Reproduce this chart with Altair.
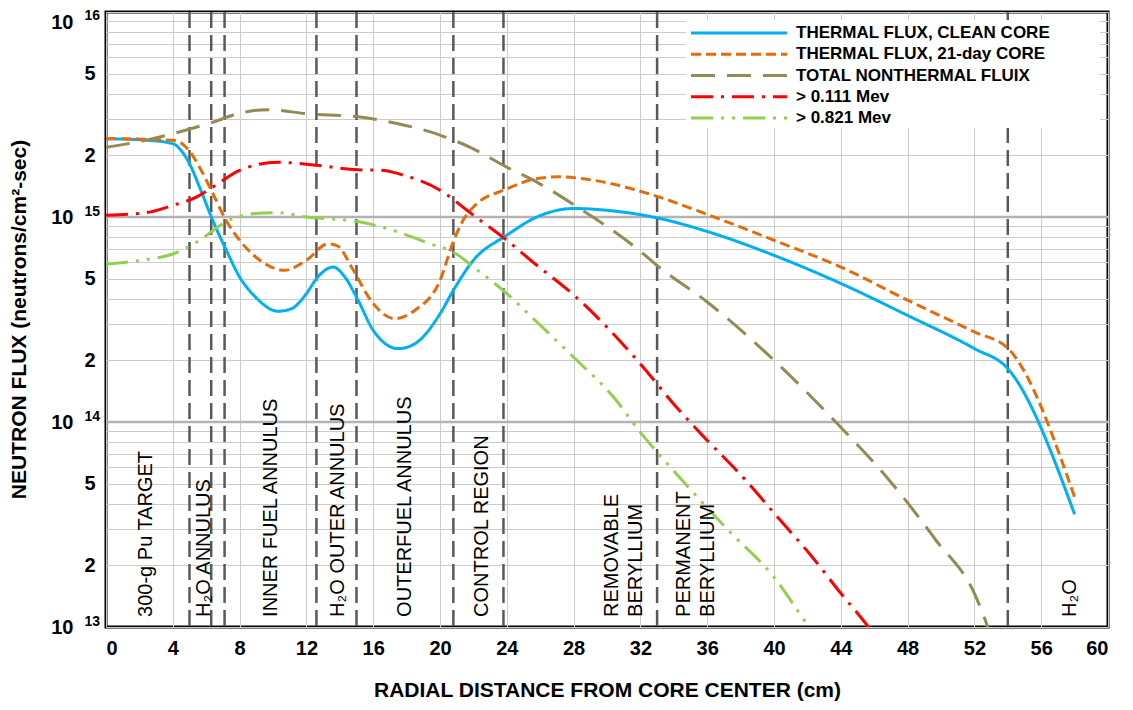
import altair as alt
import pandas as pd

FONT = "Liberation Sans"

# ---------------- data ----------------
series_names = ["THERMAL FLUX, CLEAN CORE", "THERMAL FLUX, 21-day CORE",
                "TOTAL NONTHERMAL FLUIX", "> 0.111 Mev", "> 0.821 Mev"]
series_colors = ["#00B0F0", "#E46C0A", "#948A54", "#FF0000", "#92D050"]
series_dashes = [[1, 0], [10, 5], [24, 12], [22, 8, 3, 8], [22, 8, 3, 8, 3, 8]]

clean_x = [0, 2.4, 4, 4.5, 5, 5.6, 6.4, 7.2, 8, 8.95, 10.3, 11.1, 12, 12.6, 13.6, 14.3,
           15.1, 16, 17.5, 18.5, 20, 20.8, 22, 24, 25.8, 28, 30.4, 33, 36, 40, 44, 48,
           52, 54, 58]
clean_flux = [2.41e15, 2.37e15, 2.28e15, 2.11e15, 1.82e15, 1.40e15, 9.6e14, 6.9e14,
              5.1e14, 4.07e14, 3.47e14, 3.57e14, 4.23e14, 5.0e14, 5.7e14, 5.1e14,
              3.92e14, 2.80e14, 2.28e14, 2.41e14, 3.37e14, 4.39e14, 6.15e14, 8.15e14,
              1.0e15, 1.10e15, 1.07e15, 9.9e14, 8.5e14, 6.5e14, 4.74e14, 3.31e14,
              2.28e14, 1.82e14, 3.55e13]

day21_x = [0, 4, 4.8, 5.6, 6.4, 7.2, 8, 8.95, 10.7, 12, 13.3, 13.9, 14.7, 16, 17.3, 18.5,
           20, 20.8, 21.5, 22, 24, 25.8, 27.1, 29.2, 33, 36, 40, 44, 48, 52, 54, 58]
day21_flux = [2.41e15, 2.37e15, 2.19e15, 1.75e15, 1.30e15, 9.6e14, 7.7e14, 6.4e14,
              5.5e14, 6.15e14, 7.4e14, 7.2e14, 5.7e14, 3.78e14, 3.19e14, 3.51e14,
              4.9e14, 7.6e14, 1.0e15, 1.12e15, 1.37e15, 1.54e15, 1.57e15, 1.51e15,
              1.26e15, 1.03e15, 7.7e14, 5.7e14, 3.93e14, 2.75e14, 2.29e14, 4.3e13]

nonth_x = [0, 2.4, 4, 6.4, 8, 9.7, 12, 15.1, 17.5, 20, 22, 24, 25.8, 28, 32, 33, 36, 40,
           43.8, 46.9, 49.7, 52.1, 52.8, 53.3]
nonth_flux = [2.19e15, 2.37e15, 2.55e15, 2.90e15, 3.21e15, 3.34e15, 3.19e15, 3.08e15,
              2.85e15, 2.51e15, 2.15e15, 1.75e15, 1.48e15, 1.15e15, 6.8e14, 5.8e14,
              3.85e14, 2.0e14, 9.8e13, 5.2e13, 2.65e13, 1.40e13, 1.0e13, 7.5e12]

fast111_x = [0, 2.4, 4, 5.4, 6.4, 8, 10.3, 12, 15.1, 16.5, 17.7, 20, 22, 24, 25.7, 28,
             32, 34.2, 35.6, 38.3, 40.3, 42.2, 44, 45.65, 46.3]
fast111_flux = [1.02e15, 1.05e15, 1.14e15, 1.25e15, 1.40e15, 1.69e15, 1.85e15, 1.81e15,
                1.70e15, 1.69e15, 1.61e15, 1.35e15, 1.02e15, 7.7e14, 5.9e14, 4.17e14,
                1.92e14, 1.17e14, 8.8e13, 5.2e13, 3.37e13, 2.24e13, 1.46e13, 1.0e13,
                8.4e12]

fast821_x = [0, 2.4, 4, 5.6, 7.2, 8.95, 10.3, 12, 15.1, 17.5, 19.4, 20.8, 22, 24, 25.7,
             28, 30.4, 32, 34.5, 37.2, 40, 42.1, 42.7]
fast821_flux = [5.9e14, 6.2e14, 6.6e14, 7.7e14, 9.5e14, 1.04e15, 1.05e15, 1.0e15,
                9.5e14, 8.45e14, 7.4e14, 6.75e14, 5.7e14, 4.23e14, 3.13e14, 2.07e14,
                1.32e14, 8.9e13, 5.2e13, 3.0e13, 1.75e13, 1.0e13, 8.6e12]

region_bounds = [5, 6.3, 7.1, 12.6, 15, 20.8, 23.8, 33, 54]
region_labels = ["300-g Pu TARGET", "H\u2082O ANNULUS", "INNER FUEL ANNULUS",
                 "H\u2082O OUTER ANNULUS", "OUTERFUEL ANNULUS", "CONTROL REGION",
                 "REMOVABLE\nBERYLLIUM", "PERMANENT\nBERYLLIUM", "H\u2082O"]
region_label_x = [2.4, 5.85, 9.9, 13.9, 17.9, 22.5, 30.3, 34.6, 57.7]
region_label_y = 1.12e13

major_decades = [1e14, 1e15]
decade_values = [1e13, 1e14, 1e15]
decade_exponents = ["13", "14", "15"]
top_decade_values = [1e16]
top_decade_exponents = ["16"]
x_ticks = list(range(0, 61, 4))
y_ticks = [m * 10 ** e for e in (13, 14, 15) for m in range(1, 10)] + [1e16]

# ---------------- frames ----------------
rows = []
for name, xs, fs in zip(series_names,
                        [clean_x, day21_x, nonth_x, fast111_x, fast821_x],
                        [clean_flux, day21_flux, nonth_flux, fast111_flux, fast821_flux]):
    for xv, fv in zip(xs, fs):
        rows.append({"series": name, "x": xv, "flux": float(fv)})
curves = pd.DataFrame(rows)

bounds_df = pd.DataFrame({"x": region_bounds})
labels_df = pd.DataFrame({"label": region_labels, "x": region_label_x,
                          "y": [region_label_y] * len(region_labels)})
decades_df = pd.DataFrame({"y": major_decades})
exp_df = pd.DataFrame({"y": decade_values, "e": decade_exponents})
exp_top_df = pd.DataFrame({"y": top_decade_values, "e": top_decade_exponents})
legend_df = pd.DataFrame({"series": series_names})

# ---------------- scales / axes ----------------
x_scale = alt.Scale(domain=[0, 60], nice=False, zero=False)
y_scale = alt.Scale(type="log", domain=[1e13, 1e16], nice=False)
color_scale = alt.Scale(domain=series_names, range=series_colors)
dash_scale = alt.Scale(domain=series_names, range=series_dashes)

lg = "(log(datum.value) / LN10)"
is_decade = f"abs({lg} - round({lg})) < 1e-6"
mant = f"round(datum.value / pow(10, floor({lg} + 1e-6)))"
y_label_expr = f"{is_decade} ? '10' : (({mant}) == 2 || ({mant}) == 5) ? '' + ({mant}) : ''"

x_axis = alt.Axis(values=x_ticks, title="RADIAL DISTANCE FROM CORE CENTER (cm)",
                  grid=True, gridColor="#cccccc", gridWidth=1, ticks=False, domain=False,
                  labelFont=FONT, labelFontSize=20, labelFontWeight="bold",
                  labelColor="black", labelPadding=11,
                  titleFont=FONT, titleFontSize=21, titleFontWeight="bold",
                  titleColor="black", titleX=501, titleY=63, titleAlign="center",
                  titleBaseline="middle")

y_axis = alt.Axis(values=y_ticks, labelExpr=y_label_expr,
                  title="NEUTRON FLUX (neutrons/cm\u00b2-sec)",
                  grid=True, gridColor="#cccccc", gridWidth=1, ticks=False, domain=False,
                  labelFont=FONT, labelFontSize=20, labelFontWeight="bold",
                  labelColor="black",
                  labelPadding={"condition": {"test": is_decade, "value": 33}, "value": 11},
                  labelBaseline={"condition": {"test": "datum.value >= 1e16", "value": "top"},
                                 "value": "middle"},
                  titleFont=FONT, titleFontSize=21, titleFontWeight="bold",
                  titleColor="black", titleAngle=270, titleX=-87, titleY=307,
                  titleAlign="center", titleBaseline="middle")

# ---------------- layers ----------------
decade_rules = alt.Chart(decades_df).mark_rule(color="#b3b3b3", strokeWidth=2.5).encode(
    y=alt.Y("y:Q", scale=y_scale, axis=y_axis)
)

bound_rules = alt.Chart(bounds_df).mark_rule(
    color="#595959", strokeWidth=2.5, strokeDash=[16, 7]
).encode(x=alt.X("x:Q", scale=x_scale, axis=x_axis))

lines = alt.Chart(curves).mark_line(strokeWidth=3, clip=True, interpolate="monotone").encode(
    x=alt.X("x:Q", scale=x_scale, axis=x_axis),
    y=alt.Y("flux:Q", scale=y_scale, axis=y_axis),
    color=alt.Color("series:N", scale=color_scale, legend=None),
    strokeDash=alt.StrokeDash("series:N", scale=dash_scale, legend=None),
)

region_text = alt.Chart(labels_df).mark_text(
    angle=270, align="left", baseline="middle", font=FONT, fontSize=20,
    color="black", lineBreak="\n", lineHeight=24
).encode(
    x=alt.X("x:Q", scale=x_scale, axis=x_axis),
    y=alt.Y("y:Q", scale=y_scale, axis=y_axis),
    text="label:N",
)

exp_text = alt.Chart(exp_df).mark_text(
    align="right", baseline="middle", font=FONT, fontSize=14, fontWeight="bold",
    color="black", dy=-5
).encode(x=alt.value(-6), y=alt.Y("y:Q", scale=y_scale, axis=y_axis), text="e:N")

exp_top_text = alt.Chart(exp_top_df).mark_text(
    align="right", baseline="middle", font=FONT, fontSize=14, fontWeight="bold",
    color="black", dy=4
).encode(x=alt.value(-6), y=alt.Y("y:Q", scale=y_scale, axis=y_axis), text="e:N")

main = alt.layer(decade_rules, bound_rules, lines, region_text, exp_text, exp_top_text)

legend_box = alt.Chart(pd.DataFrame({"a": [0]})).mark_rect(color="white").encode(
    x=alt.value(580), x2=alt.value(994), y=alt.value(8), y2=alt.value(116)
)
legend_y = alt.Y("series:N", sort=series_names,
                 scale=alt.Scale(type="point", range=[21, 106], padding=0), axis=None)
legend_lines = alt.Chart(legend_df).mark_rule(strokeWidth=3).encode(
    x=alt.value(585), x2=alt.value(681), y=legend_y,
    color=alt.Color("series:N", scale=color_scale, legend=None),
    strokeDash=alt.StrokeDash("series:N", scale=dash_scale, legend=None),
)
legend_text = alt.Chart(legend_df).mark_text(
    align="left", baseline="middle", font=FONT, fontSize=17, fontWeight="bold",
    color="black"
).encode(x=alt.value(690), y=legend_y, text="series:N")

legend = alt.layer(legend_box, legend_lines, legend_text)

chart = alt.layer(main, legend).resolve_scale(y="independent").properties(
    width=1002, height=615,
    autosize=alt.AutoSizeParams(type="none"),
    padding={"left": 98, "top": 4, "right": 15, "bottom": 80},
    background="white",
).configure_view(stroke="black", strokeWidth=3)

chart.save("out.html", embed_options={"renderer": "svg", "actions": False})
